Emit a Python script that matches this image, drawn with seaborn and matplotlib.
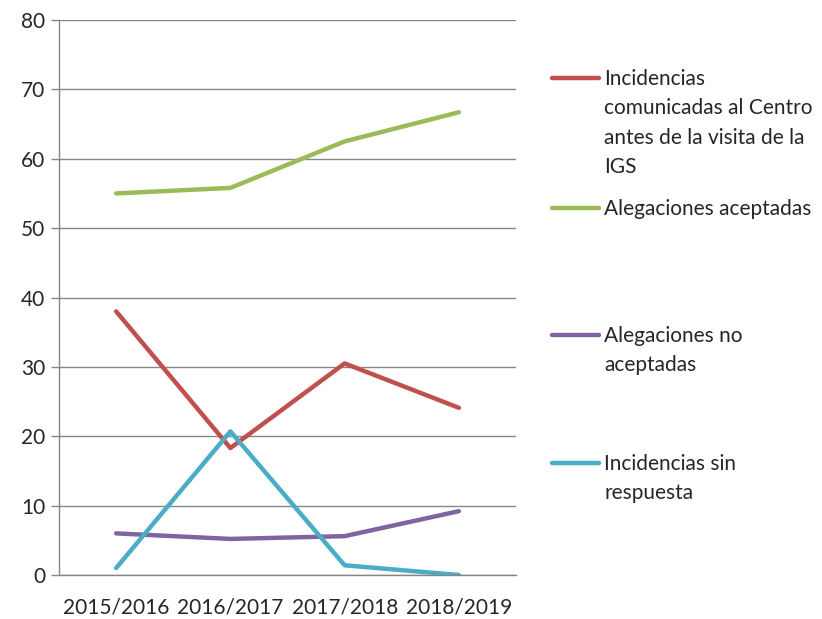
import pandas as pd
import seaborn as sns
import matplotlib.pyplot as plt
from matplotlib.lines import Line2D

# Data
cursos = ["2015/2016", "2016/2017", "2017/2018", "2018/2019"]
incidencias_comunicadas = [38.0, 18.3, 30.5, 24.1]
alegaciones_aceptadas = [55.0, 55.8, 62.5, 66.7]
alegaciones_no_aceptadas = [6.0, 5.2, 5.6, 9.2]
incidencias_sin_respuesta = [1.0, 20.7, 1.4, 0.0]

series_names = [
    "Incidencias\ncomunicadas al Centro\nantes de la visita de la\nIGS",
    "Alegaciones aceptadas",
    "Alegaciones no\naceptadas",
    "Incidencias sin\nrespuesta",
]
colors = ["#C0504D", "#9BBB59", "#8064A2", "#4BACC6"]

df = pd.DataFrame({
    "curso": cursos * 4,
    "valor": incidencias_comunicadas + alegaciones_aceptadas
             + alegaciones_no_aceptadas + incidencias_sin_respuesta,
    "serie": [n for n in series_names for _ in cursos],
})

sns.set_style("white")
plt.rcParams["font.family"] = ["Lato", "DejaVu Sans"]

fig = plt.figure(figsize=(8.22, 6.19), dpi=100)
ax = fig.add_axes([59 / 822, 44 / 619, 457 / 822, 555 / 619])

sns.lineplot(data=df, x="curso", y="valor", hue="serie", palette=colors,
             linewidth=3.2, legend=False, ax=ax, sort=False)
for line in ax.get_lines():
    line.set_solid_capstyle("round")

ax.set_xlim(-0.5, 3.5)
ax.set_ylim(0, 80)
ax.set_yticks(range(0, 81, 10))
ax.set_xticks(range(4))
ax.set_xticks([-0.5, 0.5, 1.5, 2.5, 3.5], minor=True)
ax.tick_params(axis="x", which="major", length=0, labelsize=15, pad=16)
ax.tick_params(axis="x", which="minor", length=6, width=1, color="#868686", direction="out")
ax.tick_params(axis="y", length=6, width=1, color="#868686", direction="out",
               labelsize=15, left=True, pad=4)
ax.set_xlabel("")
ax.set_ylabel("")
ax.yaxis.grid(True, color="#868686", linewidth=1)
ax.set_axisbelow(True)
for side in ["top", "right"]:
    ax.spines[side].set_visible(False)
for side in ["left", "bottom"]:
    ax.spines[side].set_color("#868686")
    ax.spines[side].set_linewidth(1)

# Legend entries placed like the original
entry_y = [78, 208, 335, 463]
for name, color, y in zip(series_names, colors, entry_y):
    fy = 1 - y / 619
    fig.add_artist(Line2D([552 / 822, 599 / 822], [fy, fy], color=color,
                          linewidth=3.2, solid_capstyle="round",
                          transform=fig.transFigure))
    fig.text(604 / 822, fy + 9 / 619, name, fontsize=15, va="top", ha="left",
             linespacing=1.58)

fig.savefig("out.png", dpi=100)
